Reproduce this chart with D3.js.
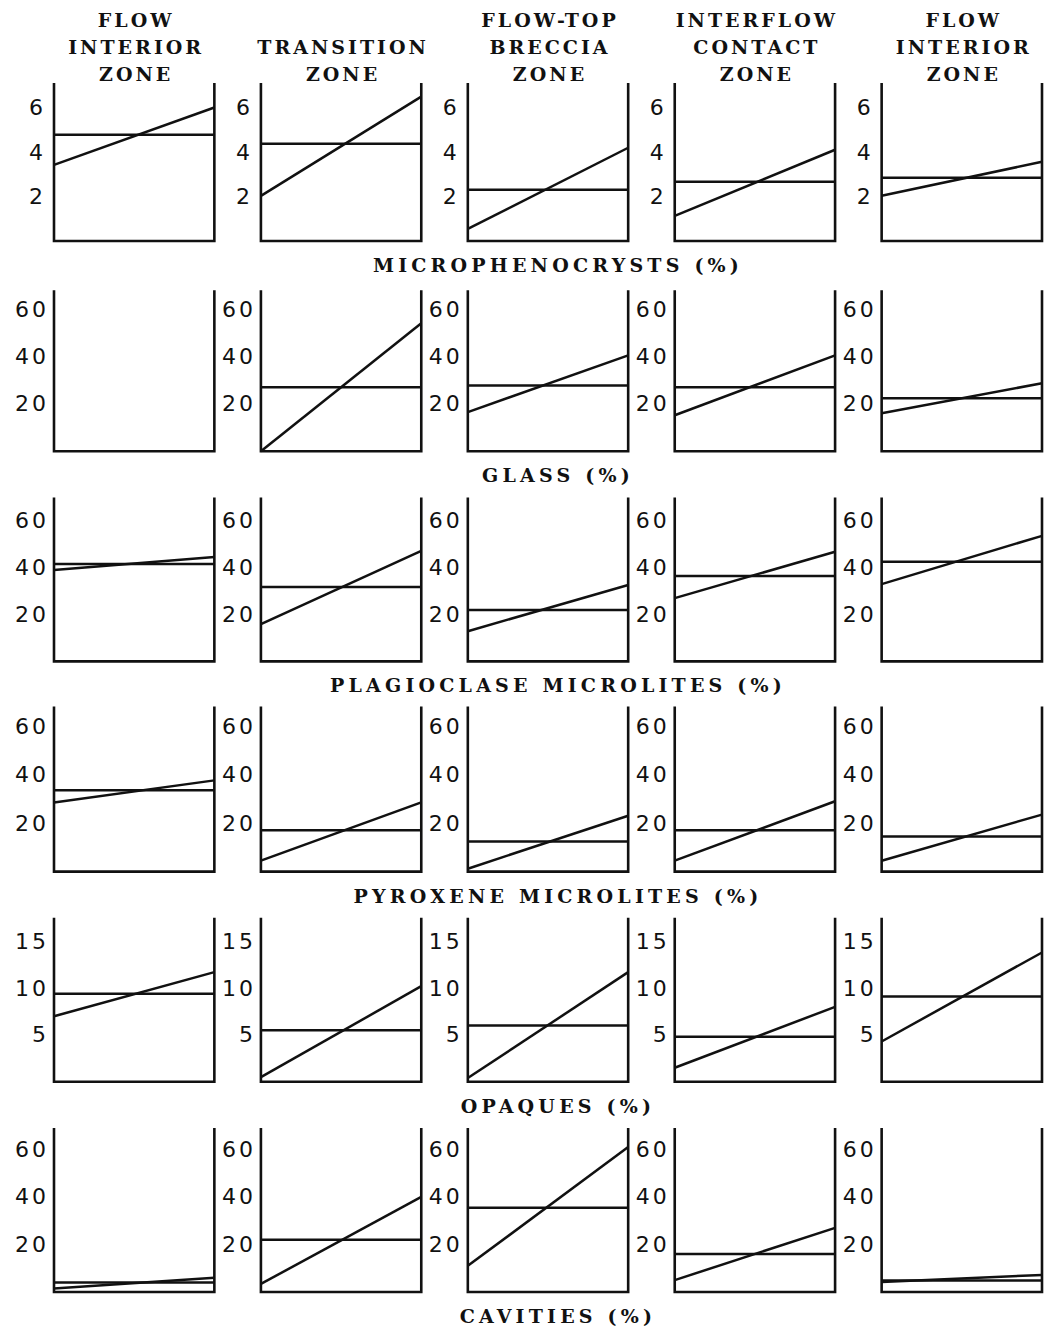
<!DOCTYPE html>
<html>
<head>
<meta charset="utf-8">
<script src="https://cdn.jsdelivr.net/npm/d3@7"></script>
<style>
  body { margin: 0; background: #fff; }
  svg { display: block; }
</style>
</head>
<body>
<svg id="chart" width="1052" height="1326"></svg>
<script>
// Column headers (zones), one array of text lines each
const zoneLines = [
  ["FLOW", "INTERIOR", "ZONE"],
  ["TRANSITION", "ZONE"],
  ["FLOW-TOP", "BRECCIA", "ZONE"],
  ["INTERFLOW", "CONTACT", "ZONE"],
  ["FLOW", "INTERIOR", "ZONE"]
]

// Row titles (components)
const components = [
  "MICROPHENOCRYSTS (%)",
  "GLASS (%)",
  "PLAGIOCLASE MICROLITES (%)",
  "PYROXENE MICROLITES (%)",
  "OPAQUES (%)",
  "CAVITIES (%)"
]

// Axis tops and tick labels per row
const yMax = [7.1, 68, 70, 68, 17.5, 69]
const tickValues = [
  [2, 4, 6],
  [20, 40, 60],
  [20, 40, 60],
  [20, 40, 60],
  [5, 10, 15],
  [20, 40, 60]
]

// Per zone: horizontal (mean) line, sloped line start and end values
const microMean = [4.77, 4.37, 2.3, 2.66, 2.84]
const microLow = [3.42, 2.03, 0.54, 1.13, 2.03]
const microHigh = [6.0, 6.49, 4.19, 4.1, 3.56]

const glassMean = [null, 27, 27.8, 27, 22.4]
const glassLow = [null, 0, 16.5, 15.2, 16]
const glassHigh = [null, 54, 40.5, 40.5, 28.7]

const plagMean = [41.6, 31.8, 21.9, 36.5, 42.5]
const plagLow = [39, 15.9, 12.9, 27, 33]
const plagHigh = [44.6, 47.2, 32.6, 46.8, 53.6]

const pyroxMean = [33.5, 17, 12.4, 17, 14.5]
const pyroxLow = [28.5, 4.5, 1.2, 4.5, 4.5]
const pyroxHigh = [37.6, 28.5, 23, 29, 23.5]

const opaqMean = [9.4, 5.5, 6.0, 4.8, 9.1]
const opaqLow = [7.0, 0.5, 0.4, 1.5, 4.3]
const opaqHigh = [11.7, 10.2, 11.7, 8.0, 13.8]

const cavMean = [4.0, 22, 35.4, 16, 4.8]
const cavLow = [1.5, 3.4, 11, 5, 4.2]
const cavHigh = [6.0, 40, 61, 27, 7.2]

const rows = [
  [microMean, microLow, microHigh],
  [glassMean, glassLow, glassHigh],
  [plagMean, plagLow, plagHigh],
  [pyroxMean, pyroxLow, pyroxHigh],
  [opaqMean, opaqLow, opaqHigh],
  [cavMean, cavLow, cavHigh]
]

// Layout
const panelHeights = [158, 161, 164, 165, 164, 164]
const headFont = "'DejaVu Serif', serif"
const tickFont = "'DejaVu Sans', sans-serif"
const ink = "#111"

const svg = d3.select("#chart")

const col = d3.scaleBand()
  .domain(d3.range(zoneLines.length))
  .range([54, 1042])
  .paddingInner(0.225)

const rowBottom = d3.scaleLinear()
  .domain([0, components.length - 1])
  .range([241, 1292])

const x = d3.scaleLinear().domain([0, 1]).range([0, col.bandwidth()])

// Column headers, bottom-aligned
zoneLines.forEach((lines, c) => {
  const cx = col(c) + col.bandwidth() / 2
  lines.forEach((t, i) => {
    svg.append("text")
      .attr("x", cx + 2)
      .attr("y", 81 - (lines.length - 1 - i) * 27)
      .attr("text-anchor", "middle")
      .style("font-family", headFont)
      .style("font-weight", "bold")
      .style("font-size", "19px")
      .style("letter-spacing", "3px")
      .style("fill", ink)
      .text(t)
  })
})

const line = d3.line()

rows.forEach(([mean, low, high], r) => {
  const bottom = rowBottom(r)
  const top = bottom - panelHeights[r]
  const y = d3.scaleLinear().domain([0, yMax[r]]).range([bottom, top])

  zoneLines.forEach((_, c) => {
    const g = svg.append("g").attr("transform", `translate(${col(c)},0)`)

    // Tick labels
    const axis = g.append("g")
      .call(d3.axisLeft(y)
        .tickValues(tickValues[r])
        .tickSize(0)
        .tickPadding(r === 0 ? 11 : 5)
        .tickFormat(d3.format("d")))
    axis.select(".domain").remove()
    axis.selectAll("text")
      .style("font-family", tickFont)
      .style("font-size", "22px")
      .style("letter-spacing", r === 0 ? "0px" : "3px")
      .style("fill", ink)

    // Panel frame: left, bottom, right
    g.append("path")
      .attr("d", line([[x(0), top], [x(0), bottom], [x(1), bottom], [x(1), top]]))
      .attr("fill", "none")
      .attr("stroke", ink)
      .attr("stroke-width", 2.6)

    if (mean[c] == null) return

    // Mean line
    g.append("path")
      .attr("d", line([[x(0), y(mean[c])], [x(1), y(mean[c])]]))
      .attr("fill", "none")
      .attr("stroke", ink)
      .attr("stroke-width", 2.5)

    // Trend line
    g.append("path")
      .attr("d", line([[x(0), y(low[c])], [x(1), y(high[c])]]))
      .attr("fill", "none")
      .attr("stroke", ink)
      .attr("stroke-width", 2.5)
  })

  // Row title
  svg.append("text")
    .attr("x", 558)
    .attr("y", bottom + 31)
    .attr("text-anchor", "middle")
    .style("font-family", headFont)
    .style("font-weight", "bold")
    .style("font-size", "19px")
    .style("letter-spacing", "4.2px")
    .style("fill", ink)
    .text(components[r])
})
</script>
</body>
</html>
